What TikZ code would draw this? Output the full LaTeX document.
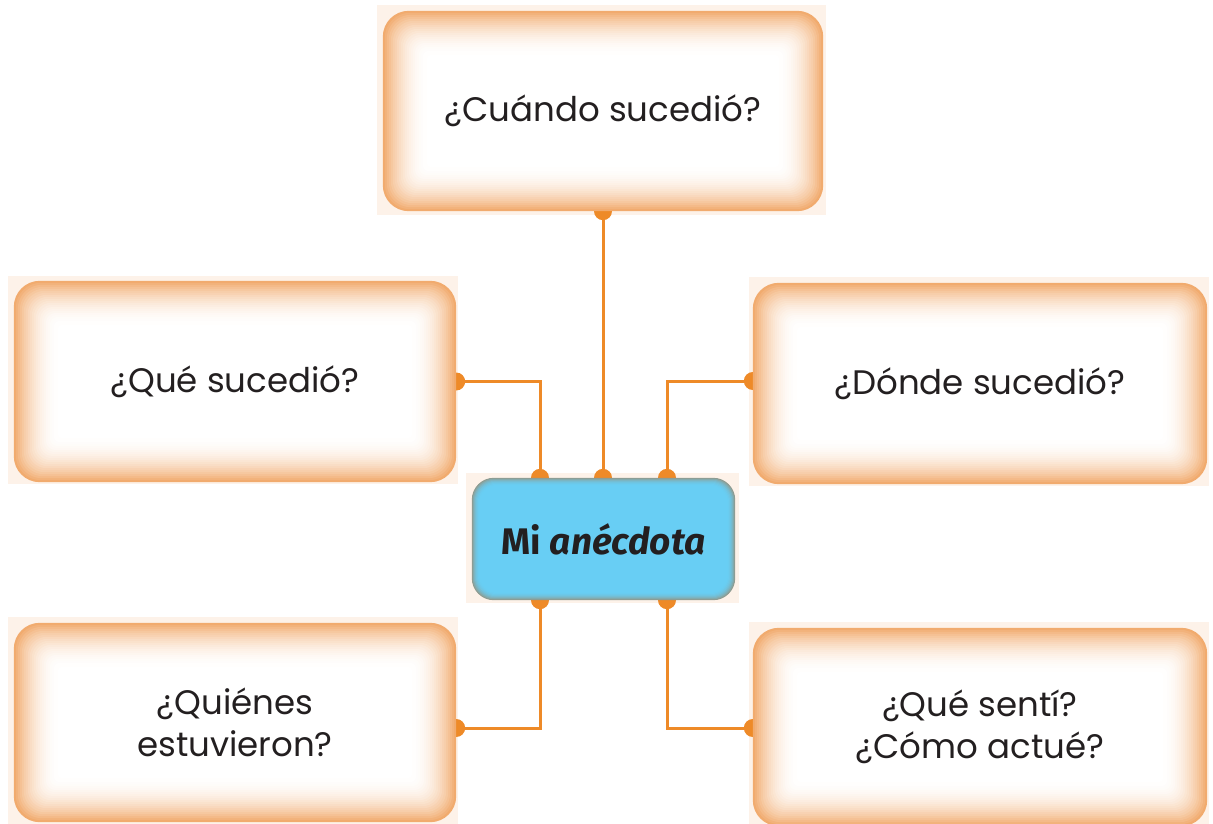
\documentclass[tikz,border=0pt]{standalone}
\usepackage{fontspec}
\setmainfont{Poppins}
\newfontfamily\titlefont{Fira Sans}
\usetikzlibrary{calc}
\definecolor{glow}{HTML}{F1AB6E}
\definecolor{peach}{HTML}{FDF2E9}
\definecolor{lineor}{HTML}{EE8A28}
\definecolor{skyblue}{HTML}{68CEF4}
\definecolor{bluedge}{HTML}{8E9C92}
\definecolor{txt}{HTML}{231F20}
\pgfdeclarelayer{bgl}
\pgfdeclarelayer{midl}
\pgfdeclarelayer{glowl}
\pgfsetlayers{bgl,midl,glowl,main}
% #1 node, #2 outer colour, #3 inner colour, #4 steps, #5 step size, #6 radius
\newcommand{\glowbox}[6]{%
  \begin{pgfonlayer}{glowl}
  \foreach \i in {0,...,#4}{%
    \pgfmathtruncatemacro{\p}{100*(1-\i/#4)^2.2}%
    \pgfmathsetmacro{\d}{\i*#5}%
    \pgfmathsetmacro{\r}{max(#6-\i*#5*0.5,4)}%
    \fill[#2!\p!#3, rounded corners=\r pt]
      ($(#1.north west)+(\d,\d)$) rectangle ($(#1.south east)-(\d,\d)$);
  }
  \end{pgfonlayer}}
% #1 node, left, top, right, bottom extensions
\newcommand{\peachbg}[5]{%
  \begin{pgfonlayer}{bgl}
  \fill[peach] ($(#1.north west)+(-#2,-#3)$) rectangle ($(#1.south east)+(#4,#5)$);
  \end{pgfonlayer}}
\tikzset{
  qbox/.style={inner sep=0pt, text=txt, align=center,
    font=\fontsize{34}{42}\selectfont},
  conn/.style={draw=lineor, line width=3pt},
  dot/.style={fill=lineor},
}
\begin{document}
\begin{tikzpicture}[x=1pt,y=-1pt]
\useasboundingbox (0,0) rectangle (1213,824);

\node[qbox, minimum width=440, minimum height=200] (top) at (603,111) {¿Cuándo sucedió?};
\node[qbox, minimum width=442, minimum height=201] (qs) at (235,381.5) {¿Qué sucedió?};
\node[qbox, minimum width=454, minimum height=201] (dn) at (980,383.5) {¿Dónde sucedió?};
\node[qbox, minimum width=442, minimum height=199] (qn) at (235,722.5) {¿Quiénes\\estuvieron?};
\node[qbox, minimum width=454, minimum height=198] (qt) at (980,727) {¿Qué sentí?\\¿Cómo actué?};
\node[inner sep=0pt, minimum width=263, minimum height=122, text=txt,
  font=\titlefont\bfseries\fontsize{37}{44}\selectfont] (cen) at (603.5,539) {Mi \textit{anécdota}};

\peachbg{top}{6}{6}{3}{4}
\peachbg{qs}{6}{5}{2}{2}
\peachbg{dn}{4}{6}{2}{2}
\peachbg{qn}{6}{6}{2}{4}
\peachbg{qt}{4}{6}{2}{4}
\peachbg{cen}{6}{5}{4}{3}

\glowbox{top}{glow}{white}{24}{2}{26}
\glowbox{qs}{glow}{white}{24}{2}{26}
\glowbox{dn}{glow}{white}{24}{2}{26}
\glowbox{qn}{glow}{white}{24}{2}{26}
\glowbox{qt}{glow}{white}{24}{2}{26}
\glowbox{cen}{bluedge}{skyblue}{8}{1}{22}

\coordinate (t1) at ($(cen.north)+(-63.5,0)$);
\coordinate (t2) at ($(cen.north)+(-0.5,0)$);
\coordinate (t3) at ($(cen.north)+(63.5,0)$);
\coordinate (b1) at ($(cen.south)+(-63.5,0)$);
\coordinate (b3) at ($(cen.south)+(63.5,0)$);
\coordinate (qnc) at ($(qn.east)+(0,5.5)$);
\coordinate (qtc) at ($(qt.west)+(0,1)$);
\coordinate (dnc) at ($(dn.west)+(0,-2.5)$);

\begin{pgfonlayer}{midl}
\draw[conn] (top.south) -- (t2);
\draw[conn] (qs.east) -| (t1);
\draw[conn] (dnc) -| (t3);
\draw[conn] (b1) |- (qnc);
\draw[conn] (b3) |- (qtc);
\foreach \c in {top.south, t1, t2, t3, b1, b3, qs.east, dnc, qnc, qtc}
  \fill[dot] (\c) circle (9);
\end{pgfonlayer}
\end{tikzpicture}
\end{document}
